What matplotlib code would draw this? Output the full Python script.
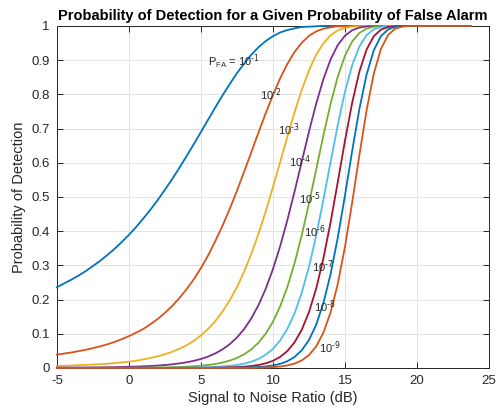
import numpy as np
import matplotlib
matplotlib.use("Agg")
import matplotlib.pyplot as plt

plt.rcParams['font.family'] = ['Liberation Sans', 'DejaVu Sans']
plt.rcParams['mathtext.default'] = 'regular'
plt.rcParams['axes.unicode_minus'] = False

# SNR axis in dB, half-dB steps
snr_db = np.append(np.arange(-5, 23.75, 0.5), 23.75)

pfa_exp = [1, 2, 3, 4, 5, 6, 7, 8, 9]

# Pd values, each list starts at the given SNR (dB); zero before, one after
pd_start = [-5, -5, -5, -5, -5, 0, 3, 5, 6.5]
pd_1 = [0.236, 0.247, 0.258, 0.270, 0.283, 0.298, 0.313, 0.330, 0.348, 0.368,
        0.389, 0.412, 0.437, 0.463, 0.491, 0.521, 0.552, 0.585, 0.619, 0.654,
        0.690, 0.726, 0.762, 0.797, 0.830, 0.862, 0.890, 0.916, 0.938, 0.956,
        0.970, 0.981, 0.988, 0.993, 0.997, 0.998, 0.999, 1.000]
pd_2 = [0.039, 0.042, 0.045, 0.049, 0.053, 0.058, 0.063, 0.069, 0.076, 0.084,
        0.093, 0.103, 0.114, 0.128, 0.143, 0.161, 0.181, 0.204, 0.230, 0.259,
        0.292, 0.329, 0.371, 0.416, 0.465, 0.518, 0.574, 0.631, 0.689, 0.745,
        0.798, 0.847, 0.889, 0.924, 0.951, 0.971, 0.984, 0.992, 0.996, 0.999,
        0.999, 1.000]
pd_3 = [0.006, 0.006, 0.007, 0.008, 0.009, 0.010, 0.011, 0.012, 0.014, 0.016,
        0.018, 0.021, 0.025, 0.029, 0.034, 0.040, 0.047, 0.056, 0.066, 0.079,
        0.095, 0.114, 0.137, 0.165, 0.198, 0.236, 0.282, 0.334, 0.393, 0.458,
        0.529, 0.602, 0.676, 0.748, 0.813, 0.870, 0.916, 0.949, 0.973, 0.987,
        0.994, 0.998, 0.999, 1.000]
pd_4 = [0.0008, 0.0009, 0.0010, 0.0011, 0.0013, 0.0015, 0.0017, 0.0020, 0.0023,
        0.0028, 0.0033, 0.0039, 0.0047, 0.0057, 0.0069, 0.0085, 0.0105, 0.0131,
        0.0164, 0.0207, 0.0262, 0.0332, 0.0424, 0.0542, 0.0695, 0.0889, 0.1137,
        0.1450, 0.1839, 0.2316, 0.2889, 0.3560, 0.4321, 0.5157, 0.6034, 0.6908,
        0.7727, 0.8444, 0.9020, 0.9441, 0.9716, 0.9874, 0.9952, 0.9985, 0.9996,
        0.9999]
pd_5 = [0.0001, 0.0001, 0.0001, 0.0002, 0.0002, 0.0002, 0.0003, 0.0003, 0.0004,
        0.0004, 0.0005, 0.0007, 0.0008, 0.0010, 0.0013, 0.0017, 0.0022, 0.0028,
        0.0037, 0.0049, 0.0065, 0.0086, 0.0116, 0.0157, 0.0214, 0.0291, 0.0398,
        0.0543, 0.0740, 0.1003, 0.1351, 0.1801, 0.2368, 0.3063, 0.3883, 0.4809,
        0.5800, 0.6795, 0.7725, 0.8517, 0.9128, 0.9546, 0.9796, 0.9922, 0.9976,
        0.9994, 0.9999]
pd_6 = [0.0001, 0.0001, 0.0001, 0.0002, 0.0002, 0.0003, 0.0004, 0.0006, 0.0008,
        0.0011, 0.0015, 0.0021, 0.0029, 0.0041, 0.0060, 0.0086, 0.0125, 0.0182,
        0.0265, 0.0385, 0.0558, 0.0802, 0.1141, 0.1599, 0.2200, 0.2958, 0.3872,
        0.4913, 0.6020, 0.7107, 0.8078, 0.8855, 0.9402, 0.9732, 0.9900, 0.9970,
        0.9993, 0.9999]
pd_7 = [0.0001, 0.0001, 0.0002, 0.0002, 0.0003, 0.0005, 0.0007, 0.0010, 0.0015,
        0.0023, 0.0036, 0.0056, 0.0086, 0.0134, 0.0208, 0.0322, 0.0494, 0.0748,
        0.1116, 0.1630, 0.2319, 0.3200, 0.4257, 0.5436, 0.6643, 0.7756, 0.8665,
        0.9311, 0.9700, 0.9893, 0.9970, 0.9993, 0.9999]
pd_8 = [0.0001, 0.0001, 0.0001, 0.0002, 0.0004, 0.0006, 0.0010, 0.0016, 0.0026,
        0.0043, 0.0072, 0.0119, 0.0196, 0.0320, 0.0516, 0.0815, 0.1261, 0.1893,
        0.2742, 0.3809, 0.5045, 0.6348, 0.7573, 0.8580, 0.9289, 0.9704, 0.9901,
        0.9975, 0.9995, 0.9999]
pd_9 = [0.0001, 0.0001, 0.0001, 0.0002, 0.0004, 0.0007, 0.0013, 0.0023, 0.0040,
        0.0072, 0.0126, 0.0219, 0.0375, 0.0629, 0.1027, 0.1621, 0.2454, 0.3541,
        0.4836, 0.6224, 0.7535, 0.8603, 0.9333, 0.9741, 0.9922, 0.9982, 0.9997,
        1.000]
pd_lists = [pd_1, pd_2, pd_3, pd_4, pd_5, pd_6, pd_7, pd_8, pd_9]

# label anchor points (SNR dB, Pd)
label_x = [5.5, 9.1, 10.35, 11.1, 11.8, 12.15, 12.7, 12.85, 13.2]
label_y = [0.895, 0.80, 0.696, 0.602, 0.494, 0.398, 0.295, 0.178, 0.058]

colors = ['#0072BD', '#D95319', '#EDB120', '#7E2F8E', '#77AC30',
          '#4DBEEE', '#A2142F', '#0072BD', '#D95319']


def full_curve(vals, start):
    lead = int(round((start + 5) / 0.5))
    tail = len(snr_db) - lead - len(vals)
    return np.array([0.0] * lead + vals + [1.0] * tail)


fig = plt.figure(figsize=(4.99, 4.12), dpi=100)
ax = fig.add_axes([0.114, 0.107, 0.866, 0.830])

for vals, start, c in zip(pd_lists, pd_start, colors):
    ax.plot(snr_db, full_curve(vals, start), color=c, lw=1.3, clip_on=False, zorder=3)

for i, (k, tx, ty) in enumerate(zip(pfa_exp, label_x, label_y)):
    if i == 0:
        s = r'$P_{FA}$ = 10$^{\text{-%d}}$' % k
    else:
        s = r'10$^{\text{-%d}}$' % k
    ax.text(tx, ty, s, fontsize=8, color='#262626', ha='left', va='center', zorder=4)

ax.set_xlim(-5, 25)
ax.set_ylim(0, 1)
ax.set_xticks(np.arange(-5, 26, 5))
ax.set_yticks(np.arange(0, 1.01, 0.1))
ax.set_yticklabels(['0', '0.1', '0.2', '0.3', '0.4', '0.5', '0.6', '0.7', '0.8', '0.9', '1'])
ax.grid(True, color='#e3e3e3', lw=0.7)
ax.set_axisbelow(True)
ax.tick_params(direction='in', length=4, width=0.7, top=True, right=True,
               labelsize=9.5, colors='#262626', pad=5)
for sp in ax.spines.values():
    sp.set_color('#262626')
    sp.set_linewidth(0.7)

ax.set_xlabel('Signal to Noise Ratio (dB)', fontsize=10.5, color='#262626', labelpad=3)
ax.set_ylabel('Probability of Detection', fontsize=10.5, color='#262626', labelpad=4)
ax.set_title('Probability of Detection for a Given Probability of False Alarm',
             fontsize=10.5, fontweight='bold', pad=4)

plt.savefig('out.png', dpi=100)
